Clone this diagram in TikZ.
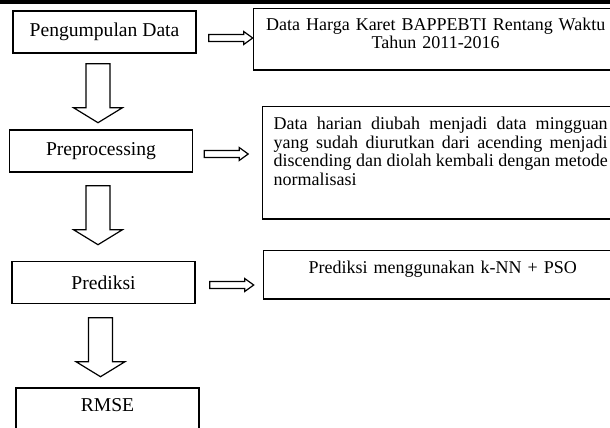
\documentclass[tikz,border=0pt]{standalone}
\usepackage{fontspec}
\setmainfont{Liberation Serif}
\usetikzlibrary{calc}
\tikzset{stepbox/.style={draw, line width=0.7pt, minimum width=91.5pt, minimum height=21pt,
                         inner sep=0pt, font=\fontsize{9.8}{11}\selectfont},
         infobox/.style 2 args={draw, line width=0.7pt, anchor=north west, inner xsep=5.5pt,
                                inner ysep=#1, text depth=#2, font=\fontsize{9}{7.6}\selectfont},
         rblock/.pic={\draw[line width=0.6pt] (0,-3.5) -- (35,-3.5) -- (35,-6.5) -- (44,0)
                        -- (35,6.5) -- (35,3.5) -- (0,3.5) -- cycle;},
         dblock/.pic={\draw[line width=0.6pt] (-12,0) -- (12,0) -- (12,44) -- (24.5,44)
                        -- (0,59) -- (-24.5,44) -- (-12,44) -- cycle;}}

\begin{document}
\begin{tikzpicture}[x=0.5pt,y=-0.5pt]
      \useasboundingbox (0,0) rectangle (610,428);
      \draw[line width=2pt] (0,2) -- (610,2);

      \node[stepbox] (pengumpulan) at (104.5,32) {Pengumpulan Data};
      \node[stepbox] (preprocessing) at (101,151) {Preprocessing};
      \node[stepbox] (prediksi) at (103.5,282.5) {Prediksi};
      \node[stepbox, minimum height=22pt, text depth=5pt] (rmse) at (107.5,410) {RMSE};

      \node[infobox={4.85pt}{14.65pt}, text width=171pt, align=center,
            font=\fontsize{9}{8.6}\selectfont] (harga) at (253,8)
            {Data Harga Karet BAPPEBTI Rentang Waktu\\ Tahun 2011-2016};
      \node[infobox={5.35pt}{39.15pt}, text width=167pt, align=justify] (harian) at (262,106)
            {Data harian diubah menjadi data mingguan\linebreak
             yang sudah diurutkan dari acending menjadi\linebreak
             discending dan diolah kembali dengan metode\linebreak
             normalisasi};
      \node[infobox={5.35pt}{7.15pt}, text width=168pt, align=center] (knn) at (263,250)
            {Prediksi menggunakan k-NN + PSO};

      \pic at ($(pengumpulan.east)+(12,6)$) {rblock};
      \pic at ($(preprocessing.east)+(11,3)$) {rblock};
      \pic at ($(prediksi.east)+(14,2.5)$) {rblock};

      \pic at ($(pengumpulan.south)+(-6.5,10)$) {dblock};
      \pic at ($(preprocessing.south)+(-3,13)$) {dblock};
      \pic at ($(prediksi.south)+(-3,13.5)$) {dblock};
\end{tikzpicture}
\end{document}
